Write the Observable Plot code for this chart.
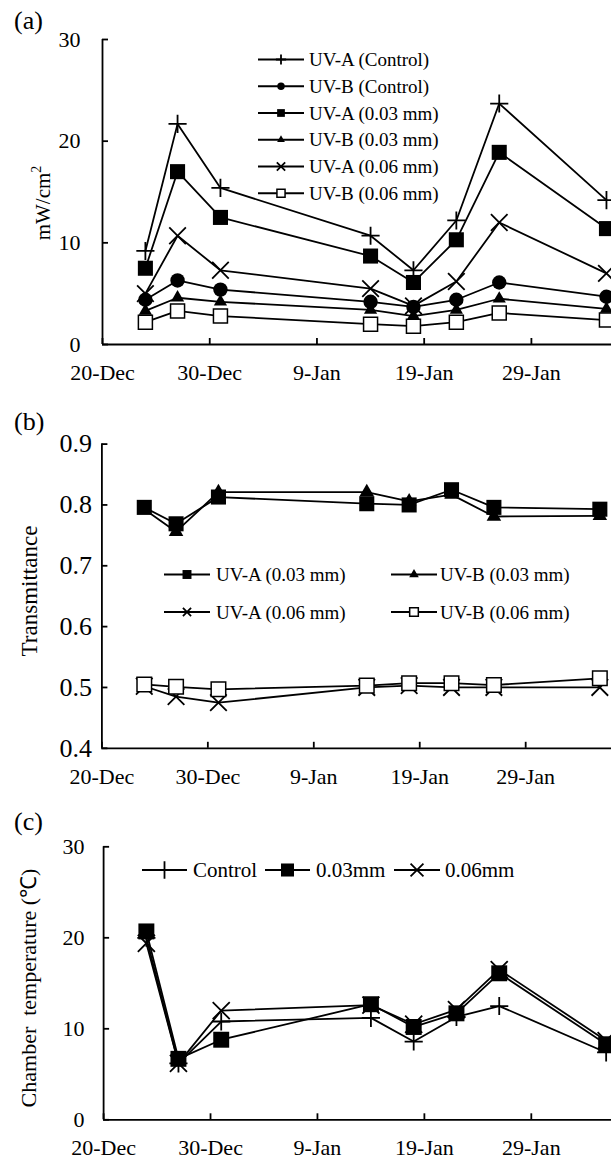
<!DOCTYPE html>
<html>
<head>
<meta charset="utf-8">
<script src="https://cdn.jsdelivr.net/npm/d3@7"></script>
<script src="https://cdn.jsdelivr.net/npm/@observablehq/plot@0.6"></script>
<style>
  html, body { margin: 0; padding: 0; background: #fff; }
  body { width: 611px; height: 1160px; overflow: hidden; font-family: "Liberation Serif", "Times New Roman", serif; }
  #wrap { position: relative; width: 611px; height: 1160px; }
  .panel { position: absolute; left: 0; }
  #overlay { position: absolute; left: 0; top: 0; pointer-events: none; }
</style>
</head>
<body>
<div id="wrap"></div>
<script>
// ---------- data ----------
const sampleDates = ["2010-12-24", "2010-12-27", "2010-12-31", "2011-01-14", "2011-01-18", "2011-01-22", "2011-01-26", "2011-02-05"];
const tickDates = ["2010-12-20", "2010-12-30", "2011-01-09", "2011-01-19", "2011-01-29"];
const tickLabels = ["20-Dec", "30-Dec", "9-Jan", "19-Jan", "29-Jan"];

// (a) UV irradiance, mW/cm2
const irrSeries = ["UV-A (Control)", "UV-B (Control)", "UV-A (0.03 mm)", "UV-B (0.03 mm)", "UV-A (0.06 mm)", "UV-B (0.06 mm)"];
const uvaControl = [9.2, 21.7, 15.4, 10.7, 7.3, 12.2, 23.7, 14.2];
const uvbControl = [4.4, 6.3, 5.4, 4.2, 3.7, 4.4, 6.1, 4.7];
const uva003 = [7.5, 17.0, 12.5, 8.7, 6.1, 10.3, 18.9, 11.4];
const uvb003 = [3.3, 4.6, 4.2, 3.4, 2.8, 3.4, 4.5, 3.5];
const uva006 = [5.0, 10.7, 7.3, 5.5, 3.8, 6.2, 12.0, 7.0];
const uvb006 = [2.2, 3.3, 2.8, 2.0, 1.8, 2.2, 3.1, 2.4];
const irrTicks = [0, 10, 20, 30];

// (b) transmittance
const transSeries = ["UV-A (0.03 mm)", "UV-B (0.03 mm)", "UV-A (0.06 mm)", "UV-B (0.06 mm)"];
const transUva003 = [0.796, 0.769, 0.813, 0.802, 0.800, 0.825, 0.796, 0.793];
const transUvb003 = [0.793, 0.756, 0.821, 0.821, 0.806, 0.817, 0.781, 0.782];
const transUva006 = [0.502, 0.485, 0.475, 0.500, 0.503, 0.500, 0.500, 0.500];
const transUvb006 = [0.505, 0.501, 0.497, 0.503, 0.507, 0.507, 0.504, 0.515];
const transTicks = [0.4, 0.5, 0.6, 0.7, 0.8, 0.9];

// (c) chamber temperature
const tempSeries = ["Control", "0.03mm", "0.06mm"];
const tempControl = [20.0, 6.2, 10.8, 11.2, 8.6, 11.3, 12.5, 7.4];
const temp003 = [20.7, 6.7, 8.8, 12.7, 10.2, 11.7, 16.1, 8.3];
const temp006 = [19.4, 6.2, 12.0, 12.6, 10.5, 12.1, 16.5, 8.7];
const tempTicks = [0, 10, 20, 30];

// ---------- helpers ----------
const DAY = 864e5;
const parse = s => new Date(s + "T00:00:00Z");
const xDates = sampleDates.map(parse);
const xTicks = tickDates.map(parse);
const labelMap = new Map(xTicks.map((d, i) => [+d, tickLabels[i]]));
const FONT = "'Liberation Serif', 'Times New Roman', serif";
const LW = 1.8;

const SYM = {
  plus:   {symbol: "plus",     fill: "none",  stroke: "black", strokeWidth: 1.8},
  times:  {symbol: "times",    fill: "none",  stroke: "black", strokeWidth: 1.8},
  square: {symbol: "square",   fill: "black", stroke: "none",  strokeWidth: 0},
  open:   {symbol: "square",   fill: "white", stroke: "black", strokeWidth: 1.5},
  circle: {symbol: "circle",   fill: "black", stroke: "none",  strokeWidth: 0},
  tri:    {symbol: "triangle", fill: "black", stroke: "none",  strokeWidth: 0}
};

function rows(values) { return values.map((v, i) => ({x: xDates[i], y: v})); }

function makePanel(cfg) {
  const x0 = parse(tickDates[0]);
  const plotW = 611 - cfg.marginLeft;
  const plotH = cfg.height - cfg.marginTop - cfg.marginBottom;
  const marks = [
    Plot.ruleX([x0], {strokeWidth: LW}),
    Plot.ruleY([cfg.yDomain[0]], {strokeWidth: LW}),
    Plot.tickX(xTicks, {x: d => d, insetTop: plotH - 6, strokeWidth: LW}),
    Plot.tickY(cfg.yTicks, {y: d => d, insetRight: plotW - 6, strokeWidth: LW}),
    Plot.axisX({ticks: xTicks, tickFormat: d => labelMap.get(+d), tickSize: 0, tickPadding: 20, fontSize: 22, label: null}),
    Plot.axisY({ticks: cfg.yTicks, tickFormat: cfg.yFormat, tickSize: 0, tickPadding: cfg.yPad, fontSize: cfg.yFont || 22, label: null})
  ];
  for (const s of cfg.series) {
    const data = rows(s.values);
    marks.push(Plot.line(data, {x: "x", y: "y", stroke: "black", strokeWidth: LW}));
    const st = SYM[s.sym];
    marks.push(Plot.dot(data, {x: "x", y: "y", r: s.r, symbol: st.symbol, fill: st.fill, stroke: st.stroke, strokeWidth: st.strokeWidth}));
  }
  const svg = Plot.plot({
    width: 611,
    height: cfg.height,
    marginLeft: cfg.marginLeft,
    marginRight: 0,
    marginTop: cfg.marginTop,
    marginBottom: cfg.marginBottom,
    style: {fontFamily: FONT, fontSize: "22px", background: "transparent", color: "black"},
    x: {type: "utc", domain: [x0, new Date(+x0 + cfg.xEnd * DAY)], label: null},
    y: {domain: cfg.yDomain, label: null},
    marks
  });
  const div = document.createElement("div");
  div.className = "panel";
  div.style.top = cfg.top + "px";
  div.appendChild(svg);
  document.getElementById("wrap").appendChild(div);
}

// panel (a)
makePanel({
  top: 0, height: 392, marginTop: 39, marginBottom: 48, marginLeft: 102, xEnd: 47.47,
  yDomain: [0, 30], yTicks: irrTicks, yFormat: d => String(d), yPad: 22,
  series: [
    {values: uvaControl, sym: "plus", r: 5.9},
    {values: uvbControl, sym: "circle", r: 7.2},
    {values: uva003, sym: "square", r: 8.5},
    {values: uvb003, sym: "tri", r: 4.9},
    {values: uva006, sym: "times", r: 7.6},
    {values: uvb006, sym: "open", r: 7.9}
  ]
});

// panel (b)
makePanel({
  top: 395, height: 395, marginTop: 48.6, marginBottom: 42.2, marginLeft: 101.4, xEnd: 48.1,
  yDomain: [0.4, 0.9], yTicks: transTicks, yFormat: d3.format(".1f"), yPad: 10, yFont: 26,
  series: [
    {values: transUva003, sym: "square", r: 8.5},
    {values: transUvb003, sym: "tri", r: 5.4},
    {values: transUva006, sym: "times", r: 7.6},
    {values: transUvb006, sym: "open", r: 8.2}
  ]
});

// panel (c)
makePanel({
  top: 790, height: 370, marginTop: 56.3, marginBottom: 40.7, marginLeft: 103.1, xEnd: 47.5,
  yDomain: [0, 30], yTicks: tempTicks, yFormat: d => String(d), yPad: 19,
  series: [
    {values: tempControl, sym: "plus", r: 5.9},
    {values: temp003, sym: "square", r: 9},
    {values: temp006, sym: "times", r: 7.8}
  ]
});

// ---------- overlay: panel letters, axis titles, legends ----------
const ov = d3.select("#wrap").append("svg")
  .attr("id", "overlay").attr("width", 611).attr("height", 1160)
  .style("font-family", FONT);

function label(x, y, txt, fs) {
  ov.append("text").attr("x", x).attr("y", y).attr("font-size", fs).text(txt);
}
label(14, 28.7, "(a)", 26);
label(14, 430.4, "(b)", 26);
label(14, 830.4, "(c)", 26);

function vtitle(cx, cy, fs, build) {
  const t = ov.append("text").attr("transform", `translate(${cx},${cy}) rotate(-90)`)
    .attr("text-anchor", "middle").attr("dominant-baseline", "central").attr("font-size", fs)
    .style("white-space", "pre");
  build(t);
}
vtitle(43, 203, 21, t => { t.append("tspan").text("mW/cm"); t.append("tspan").attr("font-size", 14).attr("dy", -7).text("2"); });
vtitle(29, 591, 23, t => t.text("Transmittance"));
vtitle(28, 988, 22, t => t.text("Chamber  temperature (\u2103)"));

const d3sym = {plus: d3.symbolPlus, times: d3.symbolTimes, square: d3.symbolSquare, open: d3.symbolSquare, circle: d3.symbolCircle, tri: d3.symbolTriangle};
function legendItem(x1, x2, y, symKey, size, textX, txt, fs) {
  ov.append("line").attr("x1", x1).attr("x2", x2).attr("y1", y).attr("y2", y).attr("stroke", "black").attr("stroke-width", LW);
  const st = SYM[symKey];
  ov.append("path").attr("d", d3.symbol(d3sym[symKey], size)())
    .attr("transform", `translate(${(x1 + x2) / 2},${y})`)
    .attr("fill", st.fill).attr("stroke", st.stroke).attr("stroke-width", st.strokeWidth || 0);
  ov.append("text").attr("x", textX).attr("y", y).attr("dominant-baseline", "central").attr("font-size", fs).text(txt);
}

// legend (a)
const legA = [["plus", 36], ["circle", 44], ["square", 60], ["tri", 26], ["times", 47], ["open", 66]];
irrSeries.forEach((name, i) => legendItem(258, 304, 59.5 + i * 26.75, legA[i][0], legA[i][1], 309, name, 19));

// legend (b)
const legB = [["square", 80], ["tri", 40], ["times", 45], ["open", 75]];
transSeries.forEach((name, i) => {
  const col = i % 2, row = Math.floor(i / 2);
  const x1 = col ? 391 : 164, x2 = col ? 437 : 210, tx = col ? 440 : 216;
  legendItem(x1, x2, 574.5 + row * 37.5, legB[i][0], legB[i][1], tx, name, 19);
});

// legend (c)
const legC = [["plus", 100, 142, 187, 193], ["square", 170, 265, 310, 316], ["times", 110, 394, 440, 445]];
tempSeries.forEach((name, i) => legendItem(legC[i][2], legC[i][3], 870, legC[i][0], legC[i][1], legC[i][4], name, 21));
</script>
</body>
</html>
